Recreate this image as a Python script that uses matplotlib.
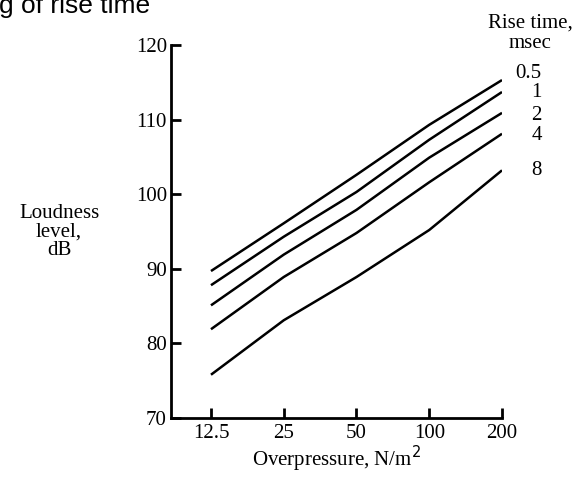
import numpy as np
import matplotlib
matplotlib.use("Agg")
import matplotlib.pyplot as plt
import matplotlib.transforms as mtransforms

# data
overpressure = [12.5, 25, 50, 100, 200]
rise_times = ["0.5", "1", "2", "4", "8"]
loudness = {
    "0.5": [89.7, 96.1, 102.6, 109.3, 115.3],
    "1": [87.8, 94.3, 100.3, 107.3, 113.7],
    "2": [85.1, 91.9, 97.9, 104.9, 110.9],
    "4": [81.9, 88.9, 94.8, 101.6, 108.1],
    "8": [75.8, 83.1, 88.9, 95.2, 103.2],
}
label_offsets = {"0.5": 0.9, "1": -0.1, "2": -0.3, "4": -0.2, "8": 0.0}
x_ticks = [12.5, 25, 50, 100, 200]
x_tick_labels = ["12.5", "25", "50", "100", "200"]
y_ticks = [70, 80, 90, 100, 110, 120]

W, H = 583, 478
FS = 15
plt.rcParams["font.family"] = ["Liberation Serif", "DejaVu Serif"]

fig = plt.figure(figsize=(W / 100, H / 100), dpi=100)
ax = fig.add_axes([171 / W, 1 - 418 / H, (502 - 171) / W, (418 - 45) / H])

for rt in rise_times:
    ax.plot(overpressure, loudness[rt], color="black", lw=1.8,
            solid_capstyle="butt")

ax.set_xscale("log")
ax.set_xlim(8.54, 200)
ax.set_ylim(70, 120)
ax.set_xticks(x_ticks)
ax.set_xticklabels(x_tick_labels)
ax.minorticks_off()
ax.set_yticks(y_ticks)

for side in ["top", "right"]:
    ax.spines[side].set_visible(False)
for side in ["left", "bottom"]:
    ax.spines[side].set_linewidth(2.0)

ax.tick_params(direction="in", length=7, width=2.0, labelsize=FS,
               pad=3, colors="black")
ax.tick_params(axis="x", pad=4)

ax.set_xlabel("Overpressure, N/m$^2$", fontsize=FS, labelpad=1)

# curve labels at the right end
trans = mtransforms.blended_transform_factory(ax.transAxes, ax.transData)
for rt in rise_times:
    ax.text(1.12, loudness[rt][-1] + label_offsets[rt], rt, transform=trans,
            ha="right", va="center", fontsize=FS, clip_on=False)

fig.text(530 / W, 1 - 23 / H, "Rise time,", ha="center", va="center", fontsize=FS)
fig.text(530 / W, 1 - 43 / H, "msec", ha="center", va="center", fontsize=FS)

fig.text(59 / W, 1 - 232 / H, "Loudness\nlevel,\ndB", ha="center", va="center",
         fontsize=FS, linespacing=0.95)

# cropped title fragment
fig.text(-1 / W, 1 - 13 / H, "g of rise time", ha="left", va="baseline",
         fontsize=19, family="Liberation Sans")

fig.savefig("out.png", dpi=100)
